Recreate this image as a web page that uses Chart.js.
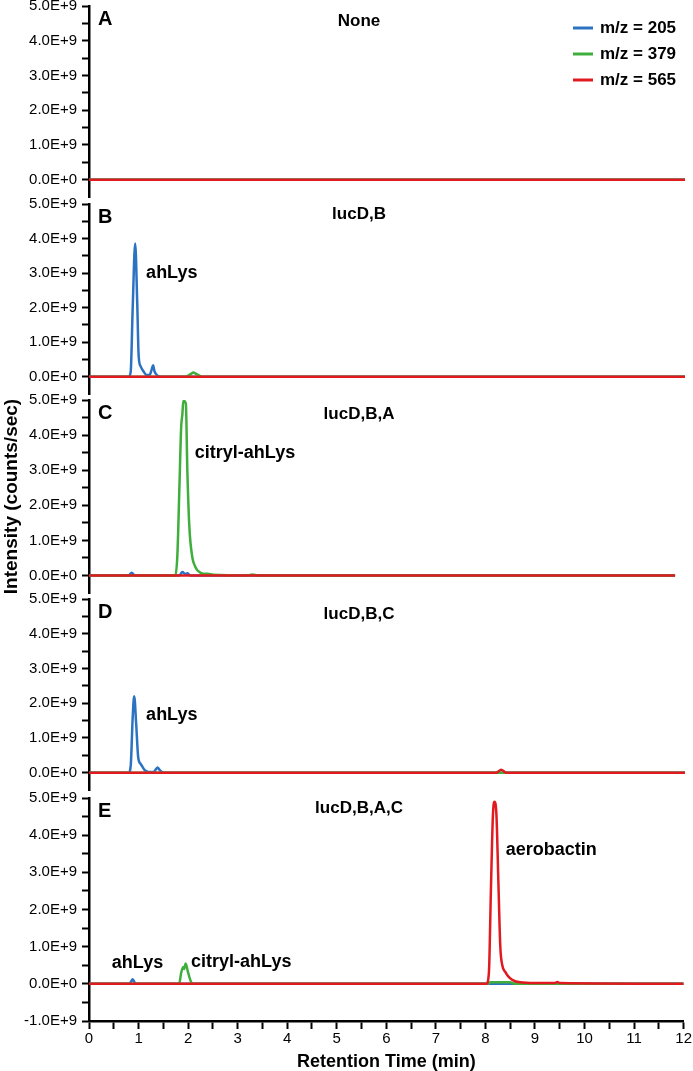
<!DOCTYPE html>
<html lang="en">
<head>
<meta charset="UTF-8">
<title>LC-MS extracted ion chromatograms</title>
<script src="https://cdn.jsdelivr.net/npm/chart.js"></script>
<style>
  body { margin: 0; background: #fff; }
  #wrap { position: relative; width: 693px; height: 1071px; overflow: hidden; }
  #wrap canvas { position: absolute; left: 0; }
</style>
</head>
<body>
<div id="wrap">
  <canvas id="p0"></canvas>
  <canvas id="p1"></canvas>
  <canvas id="p2"></canvas>
  <canvas id="p3"></canvas>
  <canvas id="p4"></canvas>
</div>
<script>
// --- data (time in min, intensity in units of 1E9 counts/sec) ---
const seriesLabels = ['m/z = 205', 'm/z = 379', 'm/z = 565'];
const panelLetters = ['A', 'B', 'C', 'D', 'E'];
const conditions = ['None', 'lucD,B', 'lucD,B,A', 'lucD,B,C', 'lucD,B,A,C'];

// panel A - none
const a205 = [[0,0],[12,0]];
const a379 = [[0,0],[12,0]];
const a565 = [[0,0],[12,0]];

// panel B - lucD,B
const b205 = [[0,0],[0.8,0],[0.84,0.15],[0.88,2.0],[0.93,3.86],[0.97,2.2],[1.0,0.6],[1.04,0.3],[1.1,0.15],
              [1.16,0.05],[1.22,0.05],[1.26,0.2],[1.29,0.33],[1.32,0.15],[1.38,0.03],[1.45,0],[12,0]];
const b379 = [[0,0],[1.95,0],[2.05,0.08],[2.1,0.12],[2.16,0.08],[2.3,0],[12,0]];
const b565 = [[0,0],[12,0]];

// panel C - lucD,B,A
const c205 = [[0,0],[0.8,0],[0.86,0.08],[0.92,0],[1.82,0],[1.88,0.1],[1.94,0.04],[1.98,0.06],[2.04,0],[11.8,0]];
const c379 = [[0,0],[1.74,0],[1.78,0.6],[1.82,2.5],[1.855,4.2],[1.88,4.6],[1.9,4.98],[1.95,4.9],[1.98,3.0],
              [2.02,1.4],[2.08,0.52],[2.14,0.25],[2.2,0.12],[2.3,0.05],[2.39,0.05],[2.5,0.02],[3.2,0],[3.29,0.03],[3.4,0],[11.8,0]];
const c565 = [[0,0],[11.8,0]];

// panel D - lucD,B,C
const d205 = [[0,0],[0.8,0],[0.84,0.2],[0.88,1.6],[0.91,2.2],[0.95,1.4],[0.99,0.45],[1.04,0.25],[1.08,0.16],
              [1.13,0.06],[1.2,0.02],[1.3,0.02],[1.35,0.1],[1.38,0.15],[1.42,0.08],[1.5,0],[12,0]];
const d379 = [[0,0],[12,0]];
const d565 = [[0,0],[8.2,0],[8.3,0.08],[8.4,0],[12,0]];

// panel E - lucD,B,A,C
const e205 = [[0,0],[0.82,0],[0.88,0.12],[0.94,0],[12,0]];
const e379 = [[0,0],[1.82,0],[1.86,0.3],[1.9,0.45],[1.92,0.4],[1.95,0.55],[2.0,0.3],[2.06,0.05],[2.1,0],
              [8.05,0],[8.1,0.04],[8.5,0.04],[8.6,0],[12,0]];
const e565 = [[0,0],[8.02,0],[8.07,0.3],[8.11,2.5],[8.15,4.5],[8.18,4.9],[8.22,4.6],[8.26,2.8],[8.3,1.0],
              [8.34,0.5],[8.4,0.32],[8.46,0.2],[8.55,0.1],[8.7,0.04],[9.0,0.02],[9.4,0.02],[9.45,0.05],[9.5,0.02],[12,0]];

const traces = [
  [a205, a379, a565],
  [b205, b379, b565],
  [c205, c379, c565],
  [d205, d379, d565],
  [e205, e379, e565]
];

// peak labels: [text, time, intensity]
const peakLabels = [
  [],
  [['ahLys', 1.15, 3.0]],
  [['citryl-ahLys', 2.13, 3.49]],
  [['ahLys', 1.15, 1.65]],
  [['ahLys', 0.46, 0.56], ['citryl-ahLys', 2.06, 0.6], ['aerobactin', 8.41, 3.6]]
];

const yMin = [-0.5, -0.5, -0.5, -0.5, -1];
const yMax = 5;

// --- layout / style ---
const colors = ['#2b72c2', '#3fae3c', '#e01a1f'];
const panelTop = [6, 204, 400, 599, 798];
const panelBottom = [197.4, 394.3, 592.5, 789.6, 1021];
const panelPad = [20, 20, 40, 20, 20];
const condOffset = [15, 10, 14, 15, 10];
const FONT = '"Liberation Sans", Arial, sans-serif';

Chart.defaults.font.family = FONT;
Chart.defaults.color = '#000';

function fmtE(v) {
  return v === 0 ? '0.0E+0' : v.toFixed(1) + 'E+9';
}

function makePanel(i) {
  const last = i === 4;
  const pad = panelPad[i];
  const cv = document.getElementById('p' + i);
  const h = last ? 1071 - panelTop[i] + pad : panelBottom[i] - panelTop[i] + 2 * pad;
  cv.width = 693;
  cv.height = Math.round(h);
  cv.style.top = (panelTop[i] - pad) + 'px';

  const textPlugin = {
    id: 'panelText' + i,
    afterDraw(chart) {
      const ctx = chart.ctx;
      const ca = chart.chartArea;
      const xs = chart.scales.x, ys = chart.scales.y;
      ctx.save();
      ctx.fillStyle = '#000';
      ctx.textBaseline = 'middle';

      ctx.font = 'bold 20px ' + FONT;
      ctx.textAlign = 'left';
      ctx.fillText(panelLetters[i], ca.left + 9, ca.top + 13);

      ctx.font = 'bold 17px ' + FONT;
      ctx.textAlign = 'center';
      ctx.fillText(conditions[i], ca.left + 270, ca.top + condOffset[i]);

      ctx.font = 'bold 18px ' + FONT;
      ctx.textAlign = 'left';
      peakLabels[i].forEach(p => {
        ctx.fillText(p[0], xs.getPixelForValue(p[1]), ys.getPixelForValue(p[2]));
      });

      if (i === 0) {
        ctx.font = 'bold 17px ' + FONT;
        seriesLabels.forEach((lab, k) => {
          const y = ca.top + 22 + 26 * k;
          ctx.strokeStyle = colors[k];
          ctx.lineWidth = 3;
          ctx.beginPath();
          ctx.moveTo(ca.right - 112, y);
          ctx.lineTo(ca.right - 92, y);
          ctx.stroke();
          ctx.fillText(lab, ca.right - 85, y);
        });
      }
      ctx.restore();
    }
  };

  const order = [2, 1, 0];
  const datasets = traces[i].map((pts, k) => ({
    label: seriesLabels[k],
    data: pts.map(p => ({ x: p[0], y: p[1] })),
    borderColor: colors[k],
    borderWidth: 2.5,
    pointRadius: 0,
    fill: false,
    cubicInterpolationMode: 'monotone',
    order: order[k]
  }));

  const xScale = {
    type: 'linear',
    min: 0,
    max: 12,
    display: last
  };
  if (last) {
    Object.assign(xScale, {
      afterFit: s => { s.height = 50; },
      border: { display: true, color: '#000', width: 2.5 },
      grid: { drawOnChartArea: false, drawTicks: true, tickLength: 8, tickWidth: 2, tickColor: '#000' },
      ticks: {
        stepSize: 0.5,
        autoSkip: false,
        maxRotation: 0,
        padding: 1,
        font: { size: 15 },
        callback: v => Number.isInteger(v) ? String(v) : ''
      },
      title: {
        display: true,
        text: 'Retention Time (min)',
        font: { size: 18, weight: 'bold', lineHeight: 1 },
        padding: 0
      }
    });
  }

  new Chart(cv, {
    type: 'line',
    data: { datasets },
    options: {
      responsive: false,
      animation: false,
      layout: { padding: { top: pad, bottom: last ? 0 : pad, left: 0, right: 8 } },
      plugins: { legend: { display: false }, tooltip: { enabled: false } },
      scales: {
        x: xScale,
        y: {
          min: yMin[i],
          max: yMax,
          afterFit: s => { s.width = 89; },
          border: { display: true, color: '#000', width: 2.5 },
          grid: {
            drawOnChartArea: false,
            drawTicks: true,
            tickLength: 7,
            tickWidth: 2,
            tickColor: c => (!last && c.tick && c.tick.value < 0) ? 'rgba(0,0,0,0)' : '#000'
          },
          ticks: {
            stepSize: 0.5,
            autoSkip: false,
            padding: 5,
            font: { size: 15 },
            callback: v => (Number.isInteger(v) && v >= yMin[i]) ? fmtE(v) : ''
          },
          title: {
            display: i === 2,
            text: 'Intensity (counts/sec)',
            font: { size: 19, weight: 'bold' },
            padding: 0
          }
        }
      }
    },
    plugins: [textPlugin]
  });
}

for (let i = 0; i < 5; i++) makePanel(i);
</script>
</body>
</html>
